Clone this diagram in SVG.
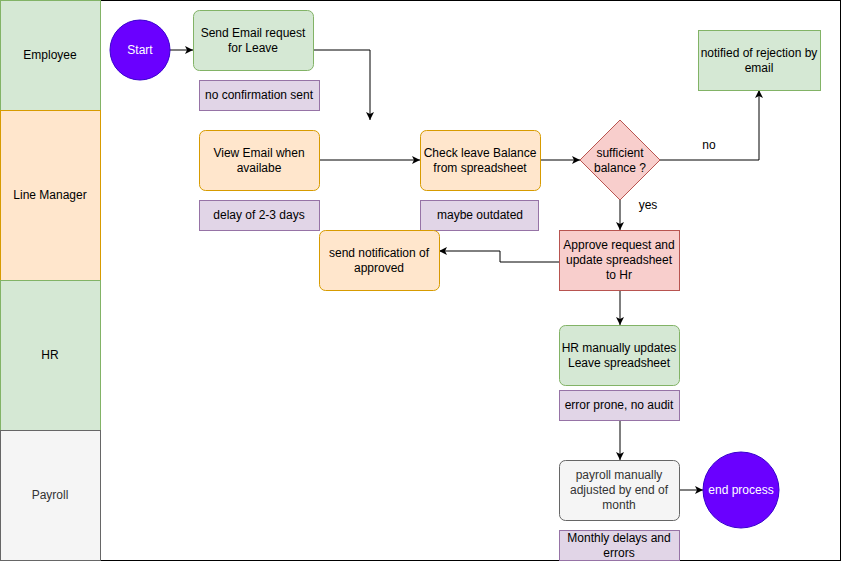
<svg xmlns="http://www.w3.org/2000/svg" width="841" height="562" viewBox="0 0 841 562">
<defs><marker id="a" markerWidth="10" markerHeight="10" refX="9" refY="5" orient="auto" markerUnits="userSpaceOnUse"><path d="M1,1 L9,5 L1,9 L3,5 Z" fill="#000"/></marker></defs>
<style>
text{font-family:"Liberation Sans",Arial,sans-serif;font-size:12px;text-anchor:middle;fill:#000}
.g{fill:#d5e8d4;stroke:#82b366}.o{fill:#ffe6cc;stroke:#d79b00}.p{fill:#e1d5e7;stroke:#9673a6}
.r{fill:#f8cecc;stroke:#b85450}.y{fill:#f5f5f5;stroke:#666}.c{fill:#6a00ff;stroke:#3700cc}
.e{fill:none;stroke:#000;marker-end:url(#a)}
</style>
<rect x="0" y="0" width="841" height="562" fill="#fff"/>
<rect x="100.5" y="0.5" width="740" height="560" fill="#fff" stroke="#000"/>
<g id="lanes">
<rect class="g" x="0.5" y="0.5" width="100" height="110"/><text x="50" y="59">Employee</text>
<rect class="o" x="0.5" y="110.5" width="100" height="170"/><text x="50" y="199">Line Manager</text>
<rect class="g" x="0.5" y="280.5" width="100" height="150"/><text x="50" y="359">HR</text>
<rect class="y" x="0.5" y="430.5" width="100" height="130"/><text x="50" y="499" style="fill:#333">Payroll</text>
</g>
<g id="edges">
<path class="e" d="M170,50 H193"/>
<path class="e" d="M313,50 H370 V120"/>
<path class="e" d="M319,160 H420"/>
<path class="e" d="M540,160 H580"/>
<path class="e" d="M660,160 H759 V90"/>
<text x="709" y="149">no</text>
<path class="e" d="M620,200 V230"/>
<text x="648" y="209">yes</text>
<path class="e" d="M559,262 H500 V251 H439"/>
<path class="e" d="M620,290 V325"/>
<path class="e" d="M620,420 V460"/>
<path class="e" d="M679,490 H703"/>
</g>
<g id="start"><circle class="c" cx="140" cy="50" r="30"/><text x="140" y="54" style="fill:#fff">Start</text></g>
<g id="send"><rect class="g" x="193.5" y="10.5" width="120" height="60" rx="6"/><text x="253" y="37">Send Email request</text><text x="253" y="52">for Leave</text></g>
<g id="noconf"><rect class="p" x="199.5" y="80.5" width="120" height="30"/><text x="259" y="99">no confirmation sent</text></g>
<g id="view"><rect class="o" x="199.5" y="130.5" width="120" height="60" rx="6"/><text x="259" y="157">View Email when</text><text x="259" y="172">availabe</text></g>
<g id="delay"><rect class="p" x="199.5" y="200.5" width="120" height="30"/><text x="259" y="219">delay of 2-3 days</text></g>
<g id="check"><rect class="o" x="420.5" y="130.5" width="120" height="60" rx="6"/><text x="480" y="157">Check leave Balance</text><text x="480" y="172">from spreadsheet</text></g>
<g id="outdated"><rect class="p" x="420.5" y="200.5" width="118" height="30"/><text x="480" y="219">maybe outdated</text></g>
<g id="dec"><path class="r" d="M620,120 L660,160 L620,200 L580,160 Z"/><text x="620" y="157">sufficient</text><text x="620" y="172">balance ?</text></g>
<g id="reject"><rect class="g" x="698.5" y="30.5" width="122" height="60"/><text x="759" y="57">notified of rejection by</text><text x="759" y="72">email</text></g>
<g id="approve"><rect class="r" x="559.5" y="230.5" width="120" height="60"/><text x="619" y="249">Approve request and</text><text x="619" y="264">update spreadsheet</text><text x="619" y="279">to Hr</text></g>
<g id="notif"><rect class="o" x="319.5" y="230.5" width="120" height="60" rx="6"/><text x="379" y="257">send notification of</text><text x="379" y="272">approved</text></g>
<g id="hr"><rect class="g" x="559.5" y="325.5" width="120" height="60" rx="6"/><text x="619" y="352">HR manually updates</text><text x="619" y="367">Leave spreadsheet</text></g>
<g id="err"><rect class="p" x="559.5" y="390.5" width="120" height="30"/><text x="619" y="409">error prone, no audit</text></g>
<g id="payroll"><rect class="y" x="559.5" y="460.5" width="120" height="60" rx="6"/><text x="619" y="479" style="fill:#333">payroll manually</text><text x="619" y="494" style="fill:#333">adjusted by end of</text><text x="619" y="509" style="fill:#333">month</text></g>
<g id="end"><circle class="c" cx="741" cy="490" r="38"/><text x="741" y="494" style="fill:#fff">end process</text></g>
<g id="monthly"><rect class="p" x="559.5" y="530.5" width="120" height="30"/><text x="619" y="542">Monthly delays and</text><text x="619" y="557">errors</text></g>
</svg>
